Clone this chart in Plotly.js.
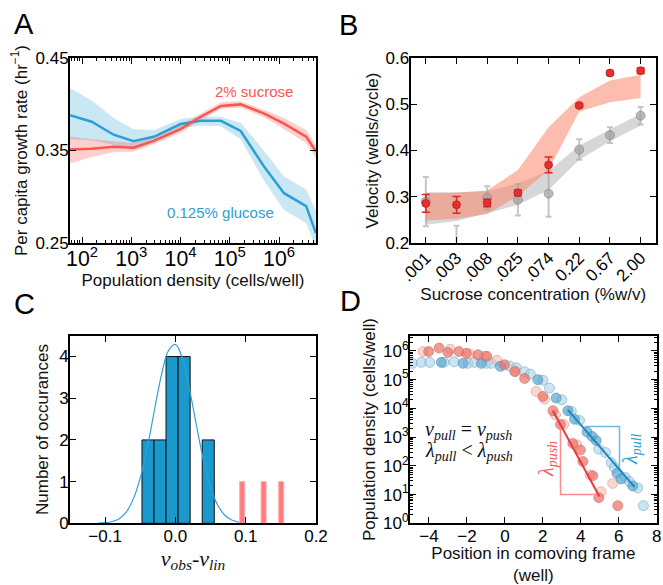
<!DOCTYPE html>
<html>
<head>
<meta charset="utf-8">
<script src="https://cdn.plot.ly/plotly-3.0.1.min.js"></script>
<style>html,body{margin:0;padding:0;background:#fff}#chart{width:663px;height:585px}</style>
</head>
<body>
<div id="chart"></div>
<script>
// ---------- Panel A : per capita growth rate vs density ----------
const popDensity   = [57, 157, 437, 1110, 2950, 1.0e4, 2.57e4, 6.6e4, 1.66e5, 4.9e5, 1.26e6, 3.55e6, 5.6e6];
const glucoseRate  = [0.388, 0.381, 0.367, 0.360, 0.365, 0.3785, 0.382, 0.382, 0.371, 0.333, 0.304, 0.290, 0.261];
const glucoseHi    = [0.417, 0.404, 0.385, 0.373, 0.372, 0.384, 0.387, 0.386, 0.380, 0.350, 0.322, 0.308, 0.285];
const glucoseLo    = [0.362, 0.361, 0.356, 0.351, 0.359, 0.374, 0.377, 0.376, 0.362, 0.318, 0.286, 0.272, 0.245];
const sucroseRate  = [0.351, 0.352, 0.354, 0.353, 0.3606, 0.373, 0.3864, 0.398, 0.3997, 0.390, 0.379, 0.365, 0.349];
const sucroseHi    = [0.365, 0.362, 0.360, 0.358, 0.364, 0.377, 0.390, 0.402, 0.403, 0.394, 0.385, 0.372, 0.356];
const sucroseLo    = [0.336, 0.343, 0.348, 0.349, 0.357, 0.369, 0.383, 0.395, 0.396, 0.386, 0.373, 0.358, 0.342];

// ---------- Panel B : velocity vs sucrose concentration ----------
const concLabels   = ['.001', '.003', '.008', '.025', '.074', '0.22', '0.67', '2.00'];
const concIndex    = [0, 1, 2, 3, 4, 5, 6, 7];
const pushVel      = [0.286, 0.283, 0.287, 0.309, 0.369, 0.497, 0.567, 0.572];
const pushErr      = [0.019, 0.018, 0.008, 0.006, 0.017, 0.004, 0.004, 0.006];
const pullVel      = [0.290, 0.180, 0.298, 0.294, 0.307, 0.402, 0.433, 0.475];
const pullErr      = [0.053, 0.058, 0.025, 0.034, 0.050, 0.022, 0.017, 0.019];
const pushBandHi   = [0.308, 0.309, 0.314, 0.358, 0.450, 0.515, 0.551, 0.563];
const pushBandLo   = [0.249, 0.253, 0.263, 0.302, 0.358, 0.484, 0.504, 0.513];
const pullBandHi   = [0.310, 0.310, 0.312, 0.329, 0.356, 0.411, 0.445, 0.479];
const pullBandLo   = [0.240, 0.248, 0.265, 0.283, 0.315, 0.380, 0.420, 0.454];

// ---------- Panel C : histogram of v_obs - v_lin ----------
const binCenters   = [-0.039, -0.0219, -0.0048, 0.0124, 0.0467];
const binCounts    = [2, 2, 4, 4, 2];
const outlierX     = [0.095, 0.1255, 0.1505];
const outlierCount = [1, 1, 1];
const fitX = [-0.11, -0.10, -0.09, -0.08, -0.07, -0.06, -0.05, -0.04, -0.03, -0.02, -0.01, 0.0, 0.01, 0.02, 0.03, 0.04, 0.05, 0.06, 0.07, 0.08, 0.09];
const fitY = [0.004, 0.014, 0.043, 0.11, 0.27, 0.58, 1.09, 1.82, 2.70, 3.55, 4.14, 4.29, 3.95, 3.22, 2.34, 1.51, 0.86, 0.44, 0.20, 0.08, 0.03];

// ---------- Panel D : front profiles ----------
const pushDarkX = [-4.02, -3.47, -3.0, -2.42, -2.03, -1.42, -0.95, -0.02, 0.54, 1.04, 2.0, 2.53, 2.93, 3.58, 3.98, 4.11, 4.63, 4.95, 5.95];
const pushDarkY = [9.5e5, 1.26e6, 8.9e5, 9.5e5, 8.3e5, 7.4e5, 6.5e5, 3.3e5, 1.9e5, 1.1e5, 2.6e4, 8.3e3, 2.75e3, 600, 355, 141, 45, 7.8, 4.1];
const pushLightX = [-4.31, -2.88, -1.86, -1.07, -0.42, 0.5, 1.65, 2.09, 2.67, 3.1, 3.79, 4.49, 5.07, 5.68];
const pushLightY = [9.5e5, 1.15e6, 7.8e5, 6.5e5, 4.7e5, 2.0e5, 3.9e4, 2.1e4, 5.9e3, 2.75e3, 537, 48, 12.6, 24.5];
const pullDarkX = [-3.35, -2.2, -1.24, -0.24, 1.74, 2.7, 3.32, 3.67, 4.33, 4.6, 4.81, 5.91, 6.12, 6.74];
const pullDarkY = [4.0e5, 3.7e5, 3.7e5, 2.9e5, 1.0e5, 2.3e4, 8.3e3, 4.2e3, 1.5e3, 1.05e3, 760, 55, 35, 20];
const pullLightX = [-4.87, -4.4, -3.96, -3.21, -2.68, -1.94, -1.6, -0.98, -0.72, 0.24, 0.6, 1.03, 1.34, 2.0, 2.35, 3.0, 3.5, 3.93, 4.95, 5.3, 5.6, 5.77, 6.35, 6.56, 7.0, 7.3];
const pullLightY = [3.7e5, 4.0e5, 4.0e5, 4.0e5, 4.2e5, 3.7e5, 4.0e5, 3.7e5, 3.7e5, 3.0e5, 2.6e5, 1.9e5, 1.55e5, 9.5e4, 5.1e4, 2.0e4, 7.9e3, 3.8e3, 380, 290, 130, 87, 39, 28, 17, 4.1];
const pushFitX = [2.53, 4.98];
const pushFitY = [8.3e3, 8.5];
const pullFitX = [3.32, 6.83];
const pullFitY = [8.9e3, 18.6];
const pushTriX = [2.93, 2.93, 5.02];
const pushTriY = [2.7e3, 10, 10];
const pullTriX = [4.2, 6.04, 6.04];
const pullTriY = [2.35e3, 2.35e3, 72];
const densTickVals = [1, 10, 100, 1e3, 1e4, 1e5, 1e6];
const densTickText = ['10<sup>0</sup>', '10<sup>1</sup>', '10<sup>2</sup>', '10<sup>3</sup>', '10<sup>4</sup>', '10<sup>5</sup>', '10<sup>6</sup>'];

// ---------- styling ----------
const RED = '#f8564f', BLUE = '#2c9fd4';
const W = 663, H = 585;
const px = v => v / W, py = v => 1 - v / H;

const traces = [
  // A
  {x: popDensity, y: glucoseLo, xaxis: 'x', yaxis: 'y', mode: 'lines', line: {width: 0}, hoverinfo: 'skip', showlegend: false},
  {x: popDensity, y: glucoseHi, xaxis: 'x', yaxis: 'y', mode: 'lines', line: {width: 0}, fill: 'tonexty', fillcolor: 'rgba(44,159,212,0.25)', showlegend: false},
  {x: popDensity, y: sucroseLo, xaxis: 'x', yaxis: 'y', mode: 'lines', line: {width: 0}, showlegend: false},
  {x: popDensity, y: sucroseHi, xaxis: 'x', yaxis: 'y', mode: 'lines', line: {width: 0}, fill: 'tonexty', fillcolor: 'rgba(248,86,79,0.28)', showlegend: false},
  {x: popDensity, y: glucoseRate, xaxis: 'x', yaxis: 'y', mode: 'lines', line: {color: BLUE, width: 2.5}, showlegend: false},
  {x: popDensity, y: sucroseRate, xaxis: 'x', yaxis: 'y', mode: 'lines', line: {color: RED, width: 2.5}, showlegend: false},
  // B
  {x: concIndex, y: pullBandLo, xaxis: 'x2', yaxis: 'y2', mode: 'lines', line: {width: 0}, showlegend: false},
  {x: concIndex, y: pullBandHi, xaxis: 'x2', yaxis: 'y2', mode: 'lines', line: {width: 0}, fill: 'tonexty', fillcolor: 'rgba(205,205,205,0.8)', showlegend: false},
  {x: concIndex, y: pushBandLo, xaxis: 'x2', yaxis: 'y2', mode: 'lines', line: {width: 0}, showlegend: false},
  {x: concIndex, y: pushBandHi, xaxis: 'x2', yaxis: 'y2', mode: 'lines', line: {width: 0}, fill: 'tonexty', fillcolor: 'rgba(250,135,110,0.55)', showlegend: false},
  {x: concIndex, y: pullVel, xaxis: 'x2', yaxis: 'y2', mode: 'markers',
   marker: {size: 9, color: 'rgba(165,165,165,0.75)', line: {color: 'rgba(130,130,130,0.6)', width: 1}},
   error_y: {type: 'data', array: pullErr, color: 'rgba(160,160,160,0.6)', thickness: 2, width: 3}, showlegend: false},
  {x: concIndex, y: pushVel, xaxis: 'x2', yaxis: 'y2', mode: 'markers',
   marker: {size: 8, color: '#ee2a2a', line: {color: 'rgba(150,40,40,0.7)', width: 1}},
   error_y: {type: 'data', array: pushErr, color: '#e82020', thickness: 1.5, width: 4}, showlegend: false},
  // C
  {x: binCenters, y: binCounts, type: 'bar', xaxis: 'x3', yaxis: 'y3', width: 0.01714,
   marker: {color: '#1a99cd', line: {color: '#111', width: 1}}, showlegend: false},
  {x: outlierX, y: outlierCount, type: 'bar', xaxis: 'x3', yaxis: 'y3', width: 0.0072,
   marker: {color: '#ff7b7b', line: {color: '#ffb0b0', width: 1}}, showlegend: false},
  {x: fitX, y: fitY, xaxis: 'x3', yaxis: 'y3', mode: 'lines', line: {color: '#2ea2d8', width: 1.2, shape: 'spline'}, showlegend: false},
  // D
  {x: pullLightX, y: pullLightY, xaxis: 'x4', yaxis: 'y4', mode: 'markers',
   marker: {size: 10, color: 'rgba(170,210,232,0.6)', line: {color: 'rgba(120,170,200,0.6)', width: 1}}, showlegend: false},
  {x: pushLightX, y: pushLightY, xaxis: 'x4', yaxis: 'y4', mode: 'markers',
   marker: {size: 10, color: 'rgba(250,185,170,0.6)', line: {color: 'rgba(210,160,150,0.6)', width: 1}}, showlegend: false},
  {x: pullDarkX, y: pullDarkY, xaxis: 'x4', yaxis: 'y4', mode: 'markers',
   marker: {size: 10, color: 'rgba(85,168,210,0.7)', line: {color: 'rgba(90,140,170,0.6)', width: 1}}, showlegend: false},
  {x: pushDarkX, y: pushDarkY, xaxis: 'x4', yaxis: 'y4', mode: 'markers',
   marker: {size: 10, color: 'rgba(240,110,100,0.7)', line: {color: 'rgba(180,120,115,0.6)', width: 1}}, showlegend: false},
  {x: pushTriX, y: pushTriY, xaxis: 'x4', yaxis: 'y4', mode: 'lines', line: {color: '#ff8a8a', width: 1.5}, showlegend: false},
  {x: pullTriX, y: pullTriY, xaxis: 'x4', yaxis: 'y4', mode: 'lines', line: {color: '#6cbce4', width: 1.5}, showlegend: false},
  {x: pushFitX, y: pushFitY, xaxis: 'x4', yaxis: 'y4', mode: 'lines', line: {color: '#e83a40', width: 2}, showlegend: false},
  {x: pullFitX, y: pullFitY, xaxis: 'x4', yaxis: 'y4', mode: 'lines', line: {color: '#1a86c4', width: 2}, showlegend: false}
];

const axBase = {showline: true, linewidth: 2, linecolor: '#000', mirror: 'ticks', ticks: 'inside', ticklen: 6, tickwidth: 1,
  tickcolor: '#000', showgrid: false, zeroline: false, automargin: true, ticklabelstandoff: -4, tickfont: {size: 17, color: '#000'}};
const titleFont = {size: 17, color: '#111'};
const xL = [70 / W, 316 / W], xR = [410.5 / W, 656 / W];
const yT = [py(243.3), py(57.7)], yB = [py(523.3), py(335.7)];
const ann = (text, x, y, extra) => Object.assign({text: text, x: px(x), y: py(y), xref: 'paper', yref: 'paper',
  xanchor: 'center', yanchor: 'middle', showarrow: false}, extra);
const serif = 'Liberation Serif, DejaVu Serif, serif';

const layout = {
  width: W, height: H, margin: {l: 0, r: 0, t: 0, b: 0, autoexpand: false}, paper_bgcolor: '#fff', plot_bgcolor: '#fff',
  font: {family: 'Liberation Sans, Arial, sans-serif', color: '#000'}, showlegend: false,
  xaxis: Object.assign({}, axBase, {domain: xL, anchor: 'y', type: 'log', range: [1.755, 6.75], dtick: 1, exponentformat: 'power',
    minor: {ticks: 'inside', ticklen: 3, dtick: 'D1', tickcolor: '#000'},
    title: {text: 'Population density (cells/well)', font: titleFont, standoff: 3}}),
  yaxis: Object.assign({}, axBase, {domain: yT, anchor: 'x', range: [0.25, 0.45], tick0: 0.25, dtick: 0.1, tickformat: '.2f',
    title: {text: 'Per capita growth rate (hr<sup>−1</sup>)', font: titleFont, standoff: 4}}),
  xaxis2: Object.assign({}, axBase, {domain: xR, anchor: 'y2', range: [-0.5, 7.5], tickmode: 'array', tickvals: concIndex, ticktext: concLabels, tickangle: -45,
    title: {text: 'Sucrose concentration (%w/v)', font: titleFont, standoff: 2}}),
  yaxis2: Object.assign({}, axBase, {domain: yT, anchor: 'x2', range: [0.2, 0.6], dtick: 0.1, tickformat: '.1f',
    title: {text: 'Velocity (wells/cycle)', font: titleFont, standoff: 3}}),
  xaxis3: Object.assign({}, axBase, {domain: xL, anchor: 'y3', range: [-0.15, 0.2], tickmode: 'array', tickvals: [-0.1, 0, 0.1, 0.2], ticktext: ['−0.1', '0.0', '0.1', '0.2'],
    title: {text: '<i>v</i><sub><i>obs</i></sub>-<i>v</i><sub><i>lin</i></sub>', font: {size: 22, family: serif, color: '#111'}, standoff: 2}}),
  yaxis3: Object.assign({}, axBase, {domain: yB, anchor: 'x3', range: [0, 4.5], dtick: 1,
    title: {text: 'Number of occurances', font: titleFont, standoff: 6}}),
  xaxis4: Object.assign({}, axBase, {domain: [410 / W, 656.7 / W], anchor: 'y4', range: [-5, 8], dtick: 2,
    title: {text: 'Position in comoving frame<br>(well)', font: titleFont, standoff: 5}}),
  yaxis4: Object.assign({}, axBase, {domain: yB, anchor: 'x4', type: 'log', range: [0, 6.53], tickmode: 'array', tickvals: densTickVals, ticktext: densTickText,
    minor: {ticks: 'inside', ticklen: 3, dtick: 'D1', tickcolor: '#000'},
    title: {text: 'Population density (cells/well)', font: titleFont, standoff: 3}}),
  annotations: [
    ann('A', 24, 24, {font: {size: 29}}),
    ann('B', 348, 25, {font: {size: 29}}),
    ann('C', 24, 304, {font: {size: 29}}),
    ann('D', 350, 301, {font: {size: 29}}),
    ann('2% sucrose', 254, 91, {font: {size: 15, color: RED}}),
    ann('0.125% glucose', 220, 212, {font: {size: 15, color: BLUE}}),
    ann('<i>v</i><sub><i>pull</i></sub> = <i>v</i><sub><i>push</i></sub>', 423, 430, {xanchor: 'left', font: {size: 20, family: serif, color: '#111'}}),
    ann('<i>λ</i><sub><i>pull</i></sub> &lt; <i>λ</i><sub><i>push</i></sub>', 423, 451, {xanchor: 'left', font: {size: 20, family: serif, color: '#111'}}),
    ann('<i>λ</i><sub><i>push</i></sub>', 547, 459, {textangle: -90, font: {size: 20, family: serif, color: '#f06060'}}),
    ann('<i>λ</i><sub><i>pull</i></sub>', 631, 449, {textangle: -90, font: {size: 20, family: serif, color: '#2c9fd4'}})
  ]
};

Plotly.newPlot('chart', traces, layout, {staticPlot: true, displayModeBar: false});
</script>
</body>
</html>
